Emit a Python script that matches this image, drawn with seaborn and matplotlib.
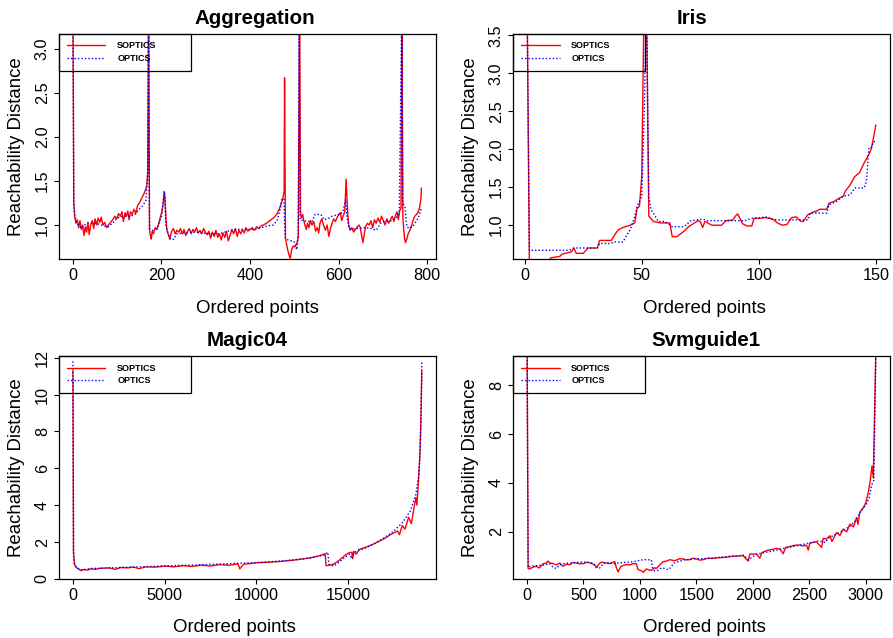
import numpy as np
import matplotlib
matplotlib.use("Agg")
import matplotlib.pyplot as plt
import seaborn as sns

# ---- Aggregation ----
agg_sop_x = [0, 2, 4, 7, 10, 13, 16, 19, 22, 25, 28, 31, 34, 37, 40, 44, 47, 50, 54, 57, 61, 64, 68, 72, 76,
             80, 85, 90, 95, 99, 103, 107, 111, 114, 118, 121, 124, 127, 130, 134, 138, 142, 146, 150, 155,
             160, 164, 167, 169, 171, 173, 175, 177, 179, 182, 186, 190, 194, 198, 201, 204, 206, 208, 210,
             212, 215, 219, 223, 227, 231, 235, 239, 243, 247, 251, 255, 259, 263, 267, 271, 275, 279, 283,
             287, 291, 295, 299, 303, 307, 311, 315, 319, 323, 327, 331, 335, 339, 343, 347, 351, 355, 359,
             363, 367, 371, 375, 379, 383, 387, 391, 395, 400, 405, 410, 415, 420, 425, 430, 437, 445, 453,
             460, 466, 470, 474, 477, 478, 480, 482, 485, 488, 491, 494, 497, 500, 503, 506, 509, 512, 514,
             516, 519, 521, 524, 527, 530, 533, 536, 540, 544, 548, 552, 555, 558, 562, 566, 570, 574, 578,
             582, 586, 589, 593, 597, 601, 604, 607, 610, 614, 617, 619, 621, 623, 626, 630, 634, 638, 642,
             646, 649, 652, 655, 658, 661, 665, 669, 673, 677, 681, 685, 689, 693, 697, 701, 705, 709, 713,
             717, 721, 725, 729, 732, 735, 738, 741, 743, 745, 747, 749, 751, 754, 757, 760, 764, 768, 772,
             776, 780, 783, 786, 787]
agg_sop_y = [3.6, 1.25, 1.1, 1.02, 1.06, 0.97, 1.05, 0.95, 1.0, 0.88, 0.98, 0.92, 1.03, 0.89, 1.0, 1.05, 0.96,
             1.07, 1.0, 1.08, 1.03, 1.09, 1.0, 1.03, 0.97, 1.0, 1.03, 1.06, 1.1, 1.07, 1.13, 1.1, 1.15, 1.04,
             1.14, 1.1, 1.16, 1.06, 1.15, 1.12, 1.18, 1.13, 1.22, 1.25, 1.3, 1.35, 1.4, 1.45, 1.6, 3.6, 0.95,
             0.88, 0.84, 0.93, 0.9, 0.97, 0.95, 1.02, 1.1, 1.15, 1.25, 1.38, 1.3, 1.1, 0.95, 0.9, 0.84, 0.93,
             0.96, 0.9, 0.94, 0.92, 0.96, 0.9, 0.95, 0.88, 0.93, 0.96, 0.9, 0.95, 0.92, 0.97, 0.91, 0.94, 0.9,
             0.96, 0.92, 0.89, 0.93, 0.85, 0.92, 0.87, 0.94, 0.86, 0.9, 0.83, 0.91, 0.86, 0.93, 0.82, 0.88,
             0.95, 0.9, 0.96, 0.87, 0.94, 0.9, 0.95, 0.91, 0.97, 0.93, 0.95, 0.97, 0.94, 0.98, 0.96, 0.99, 1.0,
             1.02, 1.05, 1.08, 1.12, 1.18, 1.24, 1.3, 1.38, 2.67, 0.85, 0.8, 0.72, 0.66, 0.62, 0.72, 0.76, 0.75,
             0.76, 0.8, 0.86, 3.6, 1.14, 1.08, 1.12, 1.06, 1.0, 0.95, 1.02, 0.97, 1.05, 1.0, 1.04, 0.93, 0.97,
             0.91, 1.02, 1.07, 1.0, 0.94, 1.0, 0.87, 0.97, 1.03, 1.07, 1.04, 1.09, 1.12, 1.14, 1.05, 1.1, 1.15,
             1.52, 1.3, 1.1, 1.0, 0.94, 0.97, 0.92, 0.95, 0.98, 1.0, 0.97, 0.88, 0.8, 0.9, 0.98, 1.02, 1.0,
             1.05, 0.97, 1.06, 1.02, 1.08, 1.03, 1.1, 1.05, 1.0, 1.07, 1.02, 1.06, 1.1, 1.04, 1.12, 1.15, 1.06,
             1.16, 1.2, 3.6, 1.1, 0.95, 0.85, 0.8, 0.84, 0.9, 0.93, 0.98, 1.05, 1.1, 1.12, 1.15, 1.2, 1.3, 1.42]
agg_opt_x = [0, 2, 4, 8, 14, 20, 26, 34, 45, 60, 70, 80, 84, 90, 95, 100, 115, 130, 140, 150, 158, 165, 169,
             171, 173, 180, 190, 200, 205, 207, 210, 215, 220, 228, 234, 250, 270, 290, 310, 330, 350, 370,
             390, 410, 425, 440, 453, 462, 469, 472, 477, 478, 480, 486, 500, 503, 506, 509, 511, 513, 528,
             540, 547, 560, 567, 575, 585, 600, 609, 616, 619, 623, 630, 640, 660, 675, 685, 695, 705, 720,
             730, 737, 743, 745, 750, 754, 760, 770, 780, 787]
agg_opt_y = [3.6, 1.3, 1.12, 1.03, 0.99, 0.96, 1.0, 1.02, 1.02, 1.01, 0.99, 0.98, 1.0, 1.02, 1.05, 1.08, 1.1,
             1.1, 1.12, 1.18, 1.22, 1.28, 1.6, 3.6, 0.96, 0.94, 0.96, 1.1, 1.3, 1.38, 1.0, 0.9, 0.84, 0.84,
             0.9, 0.91, 0.92, 0.91, 0.9, 0.9, 0.93, 0.95, 0.95, 0.95, 0.97, 0.99, 1.0, 1.06, 1.2, 1.29, 1.3,
             1.0, 0.85, 0.83, 0.81, 0.75, 0.72, 0.9, 3.6, 1.06, 1.04, 1.04, 1.12, 1.12, 1.06, 1.07, 1.1, 1.12,
             1.14, 1.29, 1.1, 0.97, 0.95, 0.96, 0.97, 0.96, 0.94, 1.02, 1.04, 1.05, 1.08, 1.14, 3.6, 1.25, 1.2,
             0.98, 0.96, 1.0, 1.08, 1.19]

# ---- Iris ----
iris_sop_x = [1, 2, 10, 11, 15, 16, 20, 21, 22, 25, 27, 31, 32, 37, 39, 40, 42, 45, 47, 48, 49, 50, 51, 52,
              53, 55, 58, 62, 63, 65, 68, 70, 72, 74, 75, 76, 77, 80, 84, 86, 89, 90, 91, 93, 95, 97, 98, 100,
              103, 106, 108, 110, 112, 114, 116, 118, 119, 121, 123, 125, 126, 129, 130, 132, 134, 136, 137,
              139, 141, 143, 145, 147, 148, 149, 150]
iris_sop_y = [4.0, 0.45, 0.5, 0.57, 0.59, 0.62, 0.65, 0.7, 0.63, 0.63, 0.7, 0.7, 0.8, 0.8, 0.9, 0.94, 0.97,
              1.0, 1.03, 1.22, 1.25, 1.64, 4.0, 4.0, 1.12, 1.05, 1.03, 1.03, 0.85, 0.85, 0.92, 0.98, 1.02,
              1.06, 1.05, 0.97, 1.05, 1.0, 1.0, 1.06, 1.07, 1.12, 1.15, 1.02, 0.99, 0.99, 1.09, 1.09, 1.1,
              1.08, 1.03, 1.0, 1.01, 1.1, 1.11, 1.05, 1.05, 1.14, 1.17, 1.19, 1.21, 1.21, 1.29, 1.31, 1.35,
              1.38, 1.45, 1.53, 1.64, 1.69, 1.82, 1.93, 2.0, 2.15, 2.32]
iris_opt_x = [1, 2, 19, 21, 31, 32, 37, 38, 42, 43, 44, 45, 47, 48, 49, 50, 51, 52, 53, 54, 55, 57, 60, 63,
              68, 71, 76, 78, 94, 97, 104, 105, 109, 121, 122, 129, 130, 133, 136, 139, 141, 145, 146, 147,
              148, 149, 150]
iris_opt_y = [4.0, 0.67, 0.67, 0.7, 0.7, 0.76, 0.76, 0.78, 0.78, 0.84, 0.89, 0.94, 1.11, 1.25, 1.31, 1.38,
              2.4, 4.0, 1.38, 1.2, 1.16, 1.05, 1.05, 0.98, 0.98, 1.06, 1.08, 1.06, 1.06, 1.09, 1.11, 1.08,
              1.07, 1.07, 1.16, 1.16, 1.27, 1.31, 1.38, 1.4, 1.49, 1.49, 1.58, 2.01, 2.01, 2.1, 2.1]

# ---- Magic04 ----
mag_sop_x = [1, 30, 80, 150, 300, 450, 600, 800, 1000, 1200, 1500, 2000, 2300, 2600, 3000, 3300, 3600, 4000,
             4500, 5000, 5500, 6000, 6500, 7000, 7500, 8000, 8500, 9000, 9100, 9300, 9700, 10000, 10500,
             11000, 11500, 12000, 12500, 13000, 13400, 13750, 13800, 14000, 14200, 14500, 14850, 15050,
             15200, 15250, 15300, 15450, 15600, 15950, 16300, 16700, 17000, 17300, 17500, 17700, 17800,
             17950, 18100, 18300, 18450, 18600, 18700, 18750, 18830, 18900, 18960, 19020]
mag_sop_y = [11.3, 1.5, 0.8, 0.65, 0.55, 0.45, 0.52, 0.48, 0.56, 0.52, 0.58, 0.6, 0.52, 0.62, 0.6, 0.65, 0.56,
             0.66, 0.64, 0.7, 0.66, 0.72, 0.68, 0.75, 0.7, 0.78, 0.74, 0.82, 0.55, 0.8, 0.84, 0.88, 0.9, 0.93,
             0.97, 1.02, 1.08, 1.16, 1.25, 1.37, 0.72, 0.75, 0.8, 1.0, 1.3, 1.42, 1.45, 1.1, 1.5, 1.35, 1.6,
             1.72, 1.85, 2.05, 2.2, 2.4, 2.5, 2.6, 2.4, 2.9, 2.7, 3.35, 3.0, 3.9, 4.4, 4.0, 5.2, 6.4, 8.2, 11.3]
mag_opt_x = [1, 40, 100, 300, 500, 1000, 2000, 3000, 4000, 5000, 6000, 7000, 8000, 9000, 10000, 11000, 12000,
             13000, 13700, 13900, 13950, 14200, 14500, 14850, 15100, 15200, 15350, 15600, 16000, 16500, 17000,
             17500, 18000, 18400, 18700, 18850, 18930, 18980, 19020]
mag_opt_y = [11.8, 1.2, 0.75, 0.55, 0.48, 0.57, 0.6, 0.64, 0.67, 0.71, 0.74, 0.77, 0.81, 0.85, 0.89, 0.95,
             1.03, 1.15, 1.3, 1.45, 0.8, 0.7, 0.9, 1.2, 1.35, 1.1, 1.45, 1.55, 1.7, 1.95, 2.25, 2.6, 3.1, 3.7,
             4.6, 5.6, 7.0, 9.0, 11.8]

# ---- Svmguide1 ----
svm_sop_x = [1, 10, 24, 50, 83, 110, 142, 170, 186, 201, 230, 260, 290, 319, 350, 378, 410, 437, 470, 496,
             530, 555, 599, 614, 640, 659, 700, 732, 777, 791, 806, 830, 850, 880, 910, 940, 969, 983, 1010,
             1028, 1057, 1080, 1101, 1131, 1146, 1175, 1205, 1235, 1264, 1300, 1323, 1350, 1382, 1410, 1441,
             1470, 1500, 1530, 1559, 1600, 1648, 1700, 1736, 1780, 1825, 1870, 1914, 1958, 1973, 2032, 2061,
             2080, 2120, 2170, 2209, 2240, 2268, 2290, 2327, 2370, 2416, 2440, 2475, 2490, 2504, 2563, 2608,
             2622, 2650, 2681, 2700, 2740, 2770, 2799, 2830, 2859, 2890, 2918, 2930, 2947, 2977, 3000, 3021,
             3036, 3054, 3066, 3079, 3089]
svm_sop_y = [9.6, 0.5, 0.48, 0.55, 0.59, 0.52, 0.69, 0.72, 0.8, 0.73, 0.7, 0.65, 0.72, 0.59, 0.68, 0.65,
             0.75, 0.72, 0.69, 0.7, 0.75, 0.73, 0.65, 0.53, 0.7, 0.76, 0.72, 0.7, 0.78, 0.53, 0.36, 0.58, 0.62,
             0.66, 0.65, 0.7, 0.69, 0.45, 0.42, 0.34, 0.48, 0.44, 0.42, 0.53, 0.5, 0.65, 0.78, 0.8, 0.86, 0.82,
             0.84, 0.9, 0.89, 0.85, 0.86, 0.92, 0.89, 0.84, 0.86, 0.92, 0.91, 0.94, 0.95, 0.97, 1.0, 1.01,
             1.02, 0.8, 1.09, 1.09, 0.92, 1.15, 1.23, 1.28, 1.32, 1.3, 1.1, 1.36, 1.4, 1.45, 1.46, 1.42, 1.45,
             1.25, 1.54, 1.59, 1.36, 1.73, 1.7, 1.84, 1.6, 1.97, 1.85, 2.11, 2.0, 2.31, 2.2, 2.58, 2.3, 2.8,
             2.99, 3.19, 3.6, 4.0, 4.69, 4.2, 7.27, 9.6]
svm_opt_x = [1, 10, 40, 100, 160, 200, 230, 260, 290, 330, 380, 430, 480, 530, 580, 614, 640, 680, 730, 760,
             800, 850, 910, 969, 1000, 1050, 1101, 1110, 1131, 1160, 1190, 1220, 1250, 1275, 1300, 1350, 1400,
             1450, 1500, 1560, 1620, 1680, 1740, 1800, 1860, 1920, 1960, 1990, 2030, 2100, 2160, 2220, 2280,
             2340, 2400, 2460, 2520, 2580, 2640, 2670, 2730, 2790, 2850, 2900, 2950, 3000, 3030, 3050, 3070,
             3082, 3089]
svm_opt_y = [9.6, 0.55, 0.6, 0.62, 0.65, 0.7, 0.55, 0.5, 0.65, 0.7, 0.72, 0.74, 0.76, 0.76, 0.72, 0.58, 0.5,
             0.72, 0.75, 0.68, 0.72, 0.74, 0.76, 0.8, 0.84, 0.86, 0.85, 0.55, 0.4, 0.42, 0.52, 0.5, 0.45, 0.55,
             0.72, 0.8, 0.86, 0.88, 0.9, 0.9, 0.92, 0.95, 0.97, 1.0, 1.01, 1.05, 0.85, 0.95, 1.08, 1.15, 1.2,
             1.26, 1.33, 1.38, 1.44, 1.5, 1.56, 1.63, 1.56, 1.75, 1.88, 2.03, 2.2, 2.4, 2.8, 3.1, 3.4, 3.9,
             4.1, 7.3, 9.6]

titles = ["Aggregation", "Iris", "Magic04", "Svmguide1"]
labels = ["SOPTICS", "OPTICS"]

sns.set_style("ticks")
plt.rcParams['font.family'] = ['Liberation Sans', 'DejaVu Sans']
plt.rcParams['text.color'] = 'black'
plt.rcParams['axes.labelcolor'] = 'black'
plt.rcParams['xtick.color'] = 'black'
plt.rcParams['ytick.color'] = 'black'

fig = plt.figure(figsize=(8.93, 6.38), dpi=100)
boxes = [[0.066, 0.594, 0.422, 0.353], [0.5745, 0.594, 0.422, 0.353],
         [0.066, 0.0925, 0.422, 0.3495], [0.5745, 0.0925, 0.422, 0.3495]]
panels = [(agg_sop_x, agg_sop_y, agg_opt_x, agg_opt_y),
          (iris_sop_x, iris_sop_y, iris_opt_x, iris_opt_y),
          (mag_sop_x, mag_sop_y, mag_opt_x, mag_opt_y),
          (svm_sop_x, svm_sop_y, svm_opt_x, svm_opt_y)]
xlims = [(-31.5, 819.5), (-5.0, 156.0), (-761, 19781), (-123.6, 3212.6)]
ylims = [(0.614, 3.17), (0.555, 3.52), (0.0, 12.09), (0.07, 9.19)]
xticks = [[0, 200, 400, 600, 800], [0, 50, 100, 150], [0, 5000, 10000, 15000],
          [0, 500, 1000, 1500, 2000, 2500, 3000]]
yticks = [[1.0, 1.5, 2.0, 2.5, 3.0], [1.0, 1.5, 2.0, 2.5, 3.0, 3.5], [0, 2, 4, 6, 8, 10, 12], [2, 4, 6, 8]]
yfmt = ["{:.1f}", "{:.1f}", "{:d}", "{:d}"]
title_x = [0.519, 0.475, 0.5, 0.511]
xlab_x = [0.527, 0.508, 0.467, 0.508]

for i in range(4):
    ax = fig.add_axes(boxes[i])
    sx, sy, ox, oy = panels[i]
    sns.lineplot(x=sx, y=sy, ax=ax, color="red", lw=1.0, sort=False, estimator=None, label=labels[0])
    sns.lineplot(x=ox, y=oy, ax=ax, color="blue", lw=1.0, sort=False, estimator=None, label=labels[1],
                 linestyle=(0, (1, 1.5)))
    ax.set_xlim(xlims[i])
    ax.set_ylim(ylims[i])
    ax.set_xticks(xticks[i])
    ax.set_xticklabels([str(t) for t in xticks[i]])
    ax.set_yticks(yticks[i])
    ax.set_yticklabels([yfmt[i].format(t) for t in yticks[i]], rotation=90, va="center")
    ax.tick_params(direction="out", length=3.6, width=0.8, labelsize=11.7, pad=3, colors="black")
    for s in ax.spines.values():
        s.set_visible(True)
        s.set_color("black")
        s.set_linewidth(0.9)
    ax.set_title(titles[i], fontsize=14.8, fontweight="bold", x=title_x[i], pad=7, color="black")
    ax.set_xlabel("Ordered points", fontsize=13.4)
    ax.set_ylabel("Reachability Distance", fontsize=13.4, labelpad=7)
    ax.xaxis.set_label_coords(xlab_x[i], -0.18)
    leg = ax.legend(loc="upper left", bbox_to_anchor=(0, 1, 0.35, 0), mode="expand", borderaxespad=0,
                    prop=dict(weight="bold", size=6.5), handlelength=4.3, handletextpad=1.3,
                    borderpad=0.85, labelspacing=0.39, fancybox=False, edgecolor="black",
                    facecolor="none", framealpha=1)
    leg.get_frame().set_linewidth(0.9)

fig.savefig("out.png", dpi=100)
